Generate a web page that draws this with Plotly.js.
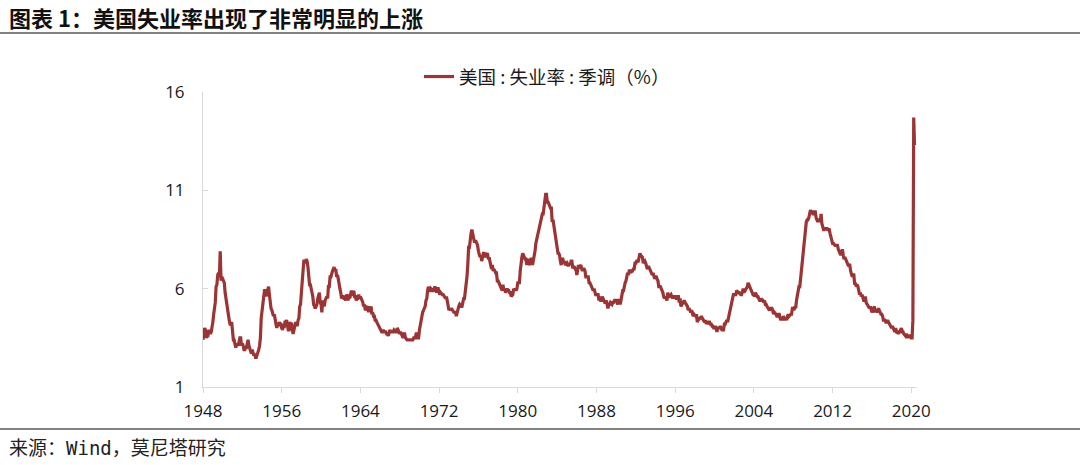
<!DOCTYPE html>
<html>
<head>
<meta charset="utf-8">
<script src="https://cdn.plot.ly/plotly-3.0.1.min.js"></script>
<style>html,body{margin:0;padding:0;background:#fff;}#chart{width:1080px;height:465px;}</style>
</head>
<body>
<div id="chart"></div>
<script>
// US unemployment rate, seasonally adjusted (%), monthly from 1948-01
var startYear = 1948;
var rate1948_1957 = [
3.4,3.8,4.0,3.9,3.5,3.6,3.6,3.9,3.8,3.7,3.8,4.0,
4.3,4.7,5.0,5.3,6.1,6.2,6.7,6.8,6.6,7.9,6.4,6.6,
6.5,6.4,6.3,5.8,5.5,5.4,5.0,4.5,4.4,4.2,4.2,4.3,
3.7,3.4,3.4,3.1,3.0,3.2,3.1,3.1,3.3,3.5,3.5,3.1,
3.2,3.1,2.9,2.9,3.0,3.0,3.2,3.4,3.1,3.0,2.8,2.7,
2.9,2.6,2.6,2.7,2.5,2.5,2.6,2.7,2.9,3.1,3.5,4.5,
4.9,5.2,5.7,5.9,5.9,5.6,5.8,6.0,6.1,5.7,5.3,5.0,
4.9,4.7,4.6,4.7,4.3,4.2,4.0,4.2,4.1,4.3,4.2,4.2,
4.0,3.9,4.2,4.0,4.3,4.3,4.4,4.1,3.9,3.9,4.3,4.2,
4.2,3.9,3.7,3.9,4.1,4.3,4.2,4.1,4.4,4.5,5.1,5.2];
var rate1958_1967 = [
5.8,6.4,6.7,7.4,7.4,7.3,7.5,7.4,7.1,6.7,6.2,6.2,
6.0,5.9,5.6,5.2,5.1,5.0,5.1,5.2,5.5,5.7,5.8,5.3,
5.2,4.8,5.4,5.2,5.1,5.4,5.5,5.6,5.5,6.1,6.1,6.6,
6.6,6.9,6.9,7.0,7.1,6.9,7.0,6.6,6.7,6.5,6.1,6.0,
5.8,5.5,5.6,5.6,5.5,5.5,5.4,5.7,5.6,5.4,5.7,5.5,
5.7,5.9,5.7,5.7,5.9,5.6,5.6,5.4,5.5,5.5,5.7,5.5,
5.6,5.4,5.4,5.3,5.1,5.2,4.9,5.0,5.1,5.1,4.8,5.0,
4.9,5.1,4.7,4.8,4.6,4.6,4.4,4.4,4.3,4.2,4.1,4.0,
4.0,3.8,3.8,3.8,3.9,3.8,3.8,3.8,3.7,3.7,3.6,3.8,
3.9,3.8,3.8,3.8,3.8,3.9,3.8,3.8,3.8,4.0,3.9,3.8];
var rate1968_1977 = [
3.7,3.8,3.7,3.5,3.5,3.7,3.7,3.5,3.4,3.4,3.4,3.4,
3.4,3.4,3.4,3.4,3.4,3.5,3.5,3.5,3.7,3.7,3.5,3.5,
3.9,4.2,4.4,4.6,4.8,4.9,5.0,5.1,5.4,5.5,5.9,6.1,
5.9,5.9,6.0,5.9,5.9,5.9,6.0,6.1,6.0,5.8,6.0,6.0,
5.8,5.7,5.8,5.7,5.7,5.7,5.6,5.6,5.5,5.6,5.3,5.2,
4.9,5.0,4.9,5.0,4.9,4.9,4.8,4.8,4.8,4.6,4.8,4.9,
5.1,5.2,5.1,5.1,5.1,5.4,5.5,5.5,5.9,6.0,6.6,7.2,
8.1,8.1,8.6,8.8,9.0,8.8,8.6,8.4,8.4,8.4,8.3,8.2,
7.9,7.7,7.6,7.7,7.4,7.6,7.8,7.8,7.6,7.7,7.8,7.8,
7.5,7.6,7.4,7.2,7.0,7.2,6.9,7.0,6.8,6.8,6.8,6.4];
var rate1978_1987 = [
6.4,6.3,6.3,6.1,6.0,5.9,6.2,5.9,6.0,5.8,5.9,6.0,
5.9,5.9,5.8,5.8,5.6,5.7,5.7,6.0,5.9,6.0,5.9,6.0,
6.3,6.3,6.3,6.9,7.5,7.6,7.8,7.7,7.5,7.5,7.5,7.2,
7.5,7.4,7.4,7.2,7.5,7.5,7.2,7.4,7.6,7.9,8.3,8.5,
8.6,8.9,9.0,9.3,9.4,9.6,9.8,9.8,10.1,10.4,10.8,10.8,
10.4,10.4,10.3,10.2,10.1,10.1,9.4,9.5,9.2,8.8,8.5,8.3,
8.0,7.8,7.8,7.7,7.4,7.2,7.5,7.5,7.3,7.4,7.2,7.3,
7.3,7.2,7.2,7.3,7.2,7.4,7.4,7.1,7.1,7.1,7.0,7.0,
6.7,7.2,7.2,7.1,7.2,7.2,7.0,6.9,7.0,7.0,6.9,6.6,
6.6,6.6,6.6,6.3,6.3,6.2,6.1,6.0,5.9,6.0,5.8,5.7];
var rate1988_1997 = [
5.7,5.7,5.7,5.4,5.6,5.4,5.4,5.6,5.4,5.4,5.3,5.3,
5.4,5.2,5.0,5.2,5.2,5.3,5.2,5.2,5.3,5.3,5.4,5.4,
5.4,5.3,5.2,5.4,5.4,5.2,5.5,5.7,5.9,5.9,6.2,6.3,
6.4,6.6,6.8,6.7,6.9,6.9,6.8,6.9,6.9,7.0,7.0,7.3,
7.3,7.4,7.4,7.4,7.6,7.8,7.7,7.6,7.6,7.3,7.4,7.4,
7.3,7.1,7.0,7.1,7.1,7.0,6.9,6.8,6.7,6.8,6.6,6.5,
6.6,6.6,6.5,6.4,6.1,6.1,6.1,6.0,5.9,5.8,5.6,5.5,
5.6,5.4,5.4,5.8,5.6,5.6,5.7,5.7,5.6,5.5,5.6,5.6,
5.6,5.5,5.5,5.6,5.6,5.3,5.5,5.1,5.2,5.2,5.4,5.4,
5.3,5.2,5.2,5.1,4.9,5.0,4.9,4.8,4.9,4.7,4.6,4.7];
var rate1998_2007 = [
4.6,4.6,4.7,4.3,4.4,4.5,4.5,4.5,4.6,4.5,4.4,4.4,
4.3,4.4,4.2,4.3,4.2,4.3,4.3,4.2,4.2,4.1,4.1,4.0,
4.0,4.1,4.0,3.8,4.0,4.0,4.0,4.1,3.9,3.9,3.9,3.9,
4.2,4.2,4.3,4.4,4.3,4.5,4.6,4.9,5.0,5.3,5.5,5.7,
5.7,5.7,5.7,5.9,5.8,5.8,5.8,5.7,5.7,5.7,5.9,6.0,
5.8,5.9,5.9,6.0,6.1,6.3,6.2,6.1,6.1,6.0,5.8,5.7,
5.7,5.6,5.8,5.6,5.6,5.6,5.5,5.4,5.4,5.5,5.4,5.4,
5.3,5.4,5.2,5.2,5.1,5.0,5.0,4.9,5.0,5.0,5.0,4.9,
4.7,4.8,4.7,4.7,4.6,4.6,4.7,4.7,4.5,4.4,4.5,4.4,
4.6,4.5,4.4,4.5,4.4,4.6,4.7,4.6,4.7,4.7,4.7,5.0];
var rate2008_2017 = [
5.0,4.9,5.1,5.0,5.4,5.6,5.8,6.1,6.1,6.5,6.8,7.3,
7.8,8.3,8.7,9.0,9.4,9.5,9.5,9.6,9.8,10.0,9.9,9.9,
9.8,9.8,9.9,9.9,9.6,9.4,9.4,9.5,9.5,9.4,9.8,9.3,
9.1,9.0,9.0,9.1,9.0,9.1,9.0,9.0,9.0,8.8,8.6,8.5,
8.3,8.3,8.2,8.2,8.2,8.2,8.2,8.0,7.8,7.8,7.7,7.9,
8.0,7.7,7.5,7.6,7.5,7.5,7.3,7.2,7.2,7.2,6.9,6.7,
6.6,6.7,6.7,6.2,6.3,6.1,6.2,6.1,5.9,5.7,5.8,5.6,
5.7,5.5,5.4,5.4,5.6,5.3,5.2,5.1,5.0,5.0,5.1,5.0,
4.8,4.9,5.0,5.1,4.8,4.9,4.8,4.9,5.0,4.9,4.7,4.7,
4.7,4.6,4.4,4.4,4.4,4.3,4.3,4.4,4.3,4.2,4.2,4.1];
var rate2018_2020 = [
4.0,4.1,4.0,4.0,3.8,4.0,3.8,3.8,3.7,3.8,3.8,3.9,
4.0,3.8,3.8,3.7,3.6,3.6,3.7,3.6,3.5,3.6,3.6,3.6,
3.5,3.5,4.4,14.7,13.3];

var titleText = '图表 1：美国失业率出现了非常明显的上涨';
var sourceLabel = '来源：';
var sourceVendor = 'Wind';
var sourceRest = '，莫尼塔研究';
var seriesName = '美国 : 失业率 : 季调（%）';
var yTicks = [1, 6, 11, 16];

var values = [].concat(rate1948_1957, rate1958_1967, rate1968_1977, rate1978_1987,
  rate1988_1997, rate1998_2007, rate2008_2017, rate2018_2020);
var dates = values.map(function(v, i){
  var y = startYear + Math.floor(i / 12), m = (i % 12) + 1;
  return y + '-' + (m < 10 ? '0' + m : m) + '-01';
});

// plot area in pixels
var L = 203, R = 917, T = 92, B = 387;
var W = R - L, H = B - T;
function px(x){ return (x - L) / W; }
function py(y){ return (B - y) / H; }

var cjk = '"Noto Sans CJK SC", "Noto Sans", sans-serif';
var tickFont = {family: '"Open Sans", "Noto Sans", sans-serif', size: 17, color: '#1a1a1a'};

var trace = {
  x: dates, y: values, type: 'scatter', mode: 'lines', name: seriesName,
  line: {color: '#9B3434', width: 3.2}
};

var layout = {
  width: 1080, height: 465,
  margin: {l: L, r: 1080 - R, t: T, b: 465 - B, pad: 0},
  paper_bgcolor: '#fff', plot_bgcolor: '#fff',
  showlegend: true,
  legend: {orientation: 'h', x: px(419), xanchor: 'left', y: py(77), yanchor: 'middle',
    font: {family: cjk, size: 18.5, color: '#1a1a1a'}, itemwidth: 30, bgcolor: 'rgba(0,0,0,0)'},
  xaxis: {
    type: 'date', range: ['1948-01-01', '2020-08-01'],
    tick0: '1948-01-01', dtick: 'M96', tickformat: '%Y',
    showline: true, linecolor: '#d9d9d9', linewidth: 1,
    ticks: 'outside', ticklen: 5, tickcolor: '#d9d9d9',
    showgrid: false, zeroline: false, tickfont: tickFont, ticklabelstandoff: 4
  },
  yaxis: {
    range: [1, 16], tickvals: yTicks, ticktext: yTicks.map(String),
    showline: true, linecolor: '#d9d9d9', linewidth: 1,
    ticks: 'inside', ticklen: 5, tickcolor: '#d9d9d9',
    showgrid: false, zeroline: false, tickfont: tickFont, ticklabelstandoff: 14
  },
  shapes: [
    {type: 'line', xref: 'paper', yref: 'paper', x0: px(0), x1: px(1080), y0: py(33), y1: py(33),
     line: {color: '#595959', width: 1.5}},
    {type: 'line', xref: 'paper', yref: 'paper', x0: px(0), x1: px(1080), y0: py(429), y1: py(429),
     line: {color: '#595959', width: 1.5}}
  ],
  annotations: [
    {text: '<b>' + titleText + '</b>', xref: 'paper', yref: 'paper', x: px(7), y: py(17),
     xanchor: 'left', yanchor: 'middle', showarrow: false,
     font: {family: cjk, size: 22, color: '#111'}},
    {text: sourceLabel + '<span style="font-family:\'DejaVu Sans Mono\',monospace">' + sourceVendor + '</span>' + sourceRest,
     xref: 'paper', yref: 'paper', x: px(7), y: py(446),
     xanchor: 'left', yanchor: 'middle', showarrow: false,
     font: {family: cjk, size: 19, color: '#222'}}
  ]
};

Plotly.newPlot('chart', [trace], layout, {displayModeBar: false, staticPlot: true});
</script>
</body>
</html>
